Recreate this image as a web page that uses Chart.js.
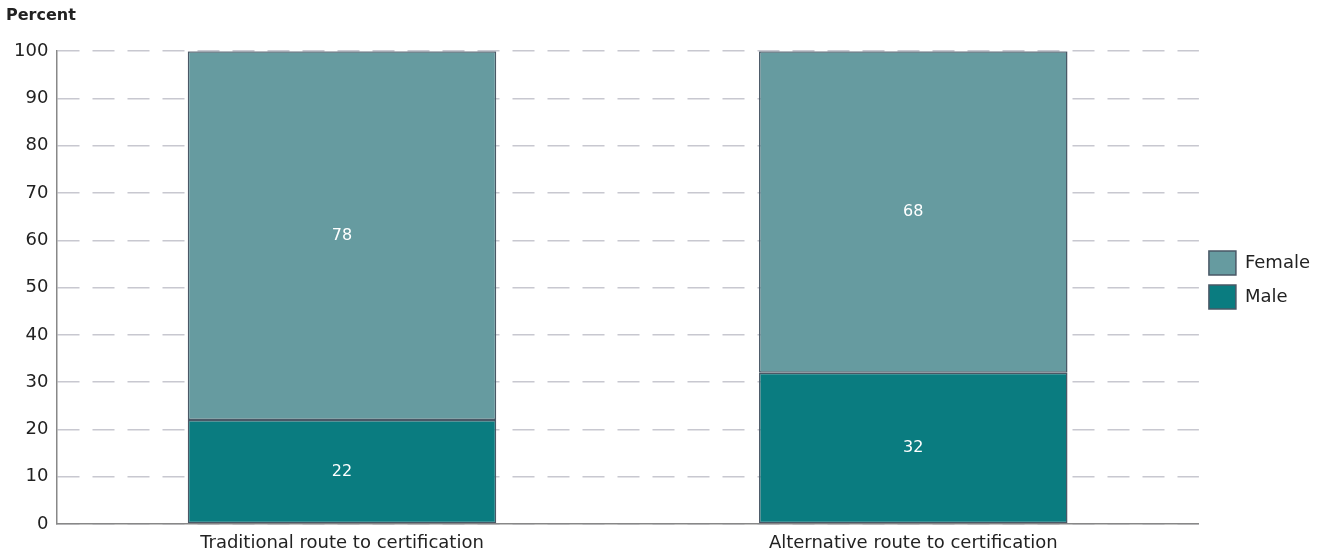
<!DOCTYPE html>
<html>
<head>
<meta charset="utf-8">
<script src="https://cdn.jsdelivr.net/npm/chart.js@4"></script>
<style>
  body { margin: 0; background: #fff; }
  #wrap { width: 1328px; height: 554px; }
</style>
</head>
<body>
<div id="wrap"><canvas id="routeChart" width="1328" height="554"></canvas></div>
<script>
const categories = ['Traditional route to certification', 'Alternative route to certification'];
const femaleValues = [78, 68];
const maleValues = [22, 32];
const yTicks = [0, 10, 20, 30, 40, 50, 60, 70, 80, 90, 100];

const FONT = '"DejaVu Sans", sans-serif';

// white value labels in the middle of each segment
const segmentLabels = {
  id: 'segmentLabels',
  afterDatasetsDraw(chart) {
    const ctx = chart.ctx;
    ctx.save();
    ctx.fillStyle = '#ffffff';
    ctx.font = '16px ' + FONT;
    ctx.textAlign = 'center';
    ctx.textBaseline = 'middle';
    chart.data.datasets.forEach((ds, i) => {
      chart.getDatasetMeta(i).data.forEach((bar, j) => {
        const mid = (bar.y + bar.base) / 2;
        ctx.fillText(ds.data[j], bar.x, mid);
      });
    });
    ctx.restore();
  }
};

const ctx = document.getElementById('routeChart').getContext('2d');
const routeChart = new Chart(ctx, {
  type: 'bar',
  data: {
    labels: categories,
    datasets: [
      {
        label: 'Male',
        data: maleValues,
        backgroundColor: '#0a7c80',
        borderColor: '#4a5866',
        borderWidth: 1.5,
        borderSkipped: false,
        barPercentage: 0.54,
        categoryPercentage: 1,
      },
      {
        label: 'Female',
        data: femaleValues,
        backgroundColor: '#669ba0',
        borderColor: '#4a5866',
        borderWidth: 1.5,
        borderSkipped: false,
        barPercentage: 0.54,
        categoryPercentage: 1,
      }
    ]
  },
  options: {
    responsive: false,
    animation: false,
    layout: { padding: { left: 6, right: 8, top: 6, bottom: 0 } },
    plugins: {
      title: {
        display: true,
        text: 'Percent',
        align: 'start',
        color: '#222',
        font: { family: FONT, size: 16, weight: 'bold' },
        padding: { top: 0, bottom: 26 }
      },
      legend: {
        position: 'right',
        reverse: true,
        labels: {
          color: '#222',
          font: { family: FONT, size: 18 },
          boxWidth: 27,
          boxHeight: 24,
          padding: 10,
        }
      },
      tooltip: { enabled: false }
    },
    scales: {
      x: {
        stacked: true,
        grid: { display: false },
        border: { color: '#888', width: 1.5 },
        ticks: { color: '#222', font: { family: FONT, size: 18, lineHeight: 1 }, padding: 2 }
      },
      y: {
        stacked: true,
        min: 0,
        max: 100,
        afterBuildTicks: (axis) => { axis.ticks = yTicks.map(v => ({ value: v })); },
        grid: { color: '#c8c8d0', lineWidth: 1.5, drawTicks: false },
        border: { color: '#888', width: 1.5, dash: [22, 13] },
        ticks: { color: '#222', font: { family: FONT, size: 18 }, padding: 8 }
      }
    }
  },
  plugins: [segmentLabels]
});
</script>
</body>
</html>
